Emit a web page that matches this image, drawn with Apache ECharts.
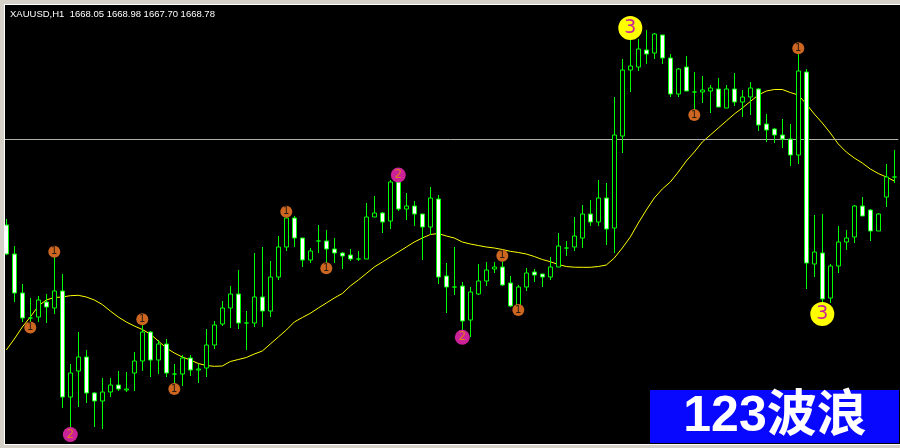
<!DOCTYPE html>
<html><head><meta charset="utf-8">
<script src="https://cdn.jsdelivr.net/npm/echarts@6/dist/echarts.min.js"></script>
<style>html,body{margin:0;padding:0;background:#d4d0c8;overflow:hidden}#c{width:900px;height:448px}</style>
</head><body><div id="c"></div>
<script>
// ---- data (XAUUSD H1) ----
const opens = [1664.0,1661.1,1657.2,1654.7,1654.8,1656.3,1655.7,1657.4,1646.8,1649.4,
1650.8,1647.2,1646.4,1647.3,1648.0,1647.5,1649.2,1650.4,1653.3,1650.5,
1652.1,1649.1,1649.1,1650.7,1649.5,1649.7,1652.0,1654.1,1655.7,1657.1,
1654.2,1654.2,1656.8,1655.4,1658.8,1661.8,1664.7,1662.7,1660.5,1662.4,
1662.4,1661.6,1661.2,1661.0,1660.6,1660.6,1664.8,1665.2,1664.4,1668.3,
1665.6,1665.9,1665.1,1663.8,1666.6,1658.9,1657.8,1657.9,1654.5,1657.1,
1658.4,1659.6,1659.8,1658.2,1655.8,1657.8,1659.3,1659.1,1658.8,1659.8,
1661.7,1661.8,1662.7,1665.1,1664.3,1666.7,1663.7,1672.9,1679.5,1679.8,
1681.5,1681.2,1683.0,1680.7,1677.1,1679.8,1677.3,1677.3,1677.4,1677.6,
1675.7,1677.6,1676.3,1676.8,1677.6,1674.1,1673.6,1673.0,1672.6,1671.0,
1679.3,1660.1,1661.2,1656.7,1659.9,1662.3,1662.8,1665.9,1665.5,1663.4,
1666.8,1668.8];
const closes = [1661.1,1657.2,1654.7,1654.7,1656.5,1655.8,1657.4,1646.8,1649.2,1650.8,
1647.2,1646.4,1647.3,1648.0,1647.6,1647.6,1650.4,1653.3,1650.5,1652.1,
1649.2,1649.1,1650.7,1649.5,1649.6,1652.0,1654.0,1655.7,1657.1,1654.2,
1654.2,1656.8,1655.4,1658.8,1661.8,1664.7,1662.7,1660.5,1661.4,1662.4,
1661.6,1661.2,1660.9,1660.6,1660.6,1664.8,1665.2,1664.3,1668.3,1665.6,
1665.9,1665.1,1663.8,1666.7,1658.8,1657.8,1657.8,1654.4,1657.3,1658.4,
1659.5,1659.8,1658.0,1655.9,1657.8,1659.2,1659.0,1658.8,1659.8,1661.9,
1661.7,1662.9,1665.1,1664.3,1666.7,1663.6,1673.0,1679.5,1679.9,1681.6,
1681.1,1683.1,1680.7,1677.1,1679.6,1677.4,1677.3,1677.5,1677.7,1675.8,
1677.6,1676.3,1676.8,1677.7,1674.0,1673.5,1673.0,1672.6,1671.0,1679.4,
1660.2,1661.3,1656.6,1659.9,1662.3,1662.7,1665.9,1664.9,1663.4,1665.1,
1668.8,1668.8];
const lows = [1661.0,1656.3,1654.3,1654.0,1654.3,1654.2,1655.1,1645.7,1643.3,1645.8,
1646.2,1643.8,1643.6,1646.8,1647.4,1647.3,1647.4,1649.4,1648.8,1649.1,
1648.8,1647.7,1647.9,1648.9,1648.2,1648.8,1651.6,1653.9,1653.7,1653.6,
1651.5,1653.8,1653.8,1654.8,1658.5,1661.4,1661.8,1659.8,1660.2,1661.2,
1659.9,1660.2,1659.6,1660.4,1660.4,1660.6,1664.8,1663.2,1663.6,1665.4,
1664.5,1663.9,1660.5,1663.0,1658.1,1655.2,1657.0,1653.1,1652.8,1657.0,
1657.9,1659.2,1657.9,1655.8,1655.6,1657.4,1658.3,1657.8,1658.5,1659.8,
1660.9,1661.4,1661.7,1663.9,1663.9,1662.0,1661.2,1671.2,1677.3,1679.4,
1680.1,1680.6,1680.1,1676.8,1676.8,1677.4,1675.3,1676.2,1675.2,1675.8,
1675.7,1675.9,1674.8,1675.0,1673.4,1672.3,1672.2,1671.7,1669.9,1670.1,
1657.6,1658.8,1656.0,1656.2,1659.2,1661.5,1662.2,1664.9,1662.4,1663.4,
1665.8,1668.2];
const highs = [1664.6,1661.9,1658.1,1656.7,1656.9,1657.1,1661.3,1659.1,1650.1,1653.3,
1651.5,1647.3,1648.7,1648.7,1649.4,1649.3,1651.3,1654.6,1653.4,1652.5,
1652.6,1650.1,1651.0,1651.0,1650.1,1653.6,1654.4,1656.4,1657.9,1659.5,
1655.4,1661.2,1661.8,1660.4,1662.9,1665.3,1664.9,1662.7,1661.7,1664.0,
1663.5,1662.7,1661.3,1661.6,1661.4,1666.2,1666.9,1665.3,1668.5,1669.1,
1667.2,1666.4,1665.1,1667.8,1667.0,1660.2,1661.8,1658.3,1657.8,1660.1,
1660.3,1660.3,1660.9,1658.9,1658.0,1659.7,1659.6,1659.1,1660.8,1663.2,
1662.4,1664.8,1666.0,1666.5,1668.5,1668.2,1676.8,1680.6,1683.3,1682.6,
1683.5,1683.2,1683.0,1681.1,1679.7,1680.9,1679.3,1678.9,1678.0,1678.7,
1678.0,1679.2,1677.5,1678.3,1677.7,1675.1,1673.7,1674.6,1674.1,1681.6,
1679.6,1665.0,1665.1,1660.1,1663.9,1663.5,1666.0,1666.8,1665.6,1665.2,
1670.1,1671.5];
const maValues = [1651.5,1652.6,1653.8,1654.8,1655.9,1656.5,1656.75,1656.8,1656.93,1656.97,
1656.8,1656.5,1656.05,1655.4,1654.8,1654.3,1653.9,1653.55,1653.1,1652.4,
1651.7,1651.2,1650.8,1650.5,1650.15,1649.95,1649.87,1649.9,1650.35,1650.55,
1650.75,1651.1,1651.4,1652.1,1652.8,1653.5,1654.3,1654.75,1655.17,1655.7,
1656.2,1656.7,1657.15,1657.9,1658.5,1659.15,1659.8,1660.3,1660.8,1661.3,
1661.8,1662.3,1662.7,1663.05,1663.15,1662.9,1662.7,1662.3,1662.1,1661.95,
1661.8,1661.7,1661.55,1661.37,1661.25,1661.1,1660.85,1660.55,1660.33,1660.05,
1659.85,1659.78,1659.77,1659.77,1659.85,1660.0,1660.7,1661.7,1662.8,1664.2,
1665.5,1666.7,1667.6,1668.3,1669.3,1670.4,1671.3,1672.3,1673.0,1673.7,
1674.4,1675.1,1675.7,1676.35,1677.0,1677.4,1677.55,1677.55,1677.25,1677.0,
1676.1,1675.1,1674.2,1673.2,1672.1,1671.3,1670.7,1670.2,1669.6,1669.15,
1668.8,1668.4];
// wave markers: [bar index, price]
const wave1Points = [[3,1653.75],[6,1661.33],[17,1654.57],[21,1647.6],[35,1665.33],[40,1659.67],[62,1660.93],[64,1655.5],[86,1675.0],[99,1681.67]];
const wave2Points = [[8,1643.05],[49,1669.0],[57,1652.77]];
const wave3Points = [[78,1683.7],[102,1655.1]];
const hLineLevel = 1672.6;
const headerText = 'XAUUSD,H1  1668.05 1668.98 1667.70 1668.78';
const badgeText = '123波浪';
const categories = opens.map((_, i) => 'bar' + i);

const candleData = opens.map((o, i) => [o, closes[i], lows[i], highs[i]]);

const chart = echarts.init(document.getElementById('c'), null, {renderer: 'canvas'});
function waveSeries(pts, label, size, fill, txtColor, fs) {
  return {
    type: 'scatter', data: pts, symbol: 'circle', symbolSize: size, z: 6,
    itemStyle: {color: fill, opacity: 1},
    label: {show: true, position: 'inside', formatter: label, color: txtColor,
      fontSize: fs, fontFamily: 'DejaVu Sans', fontWeight: 'normal'},
    emphasis: {disabled: true}, silent: true
  };
}
chart.setOption({
  backgroundColor: '#000000',
  animation: false,
  grid: {left: 2.3, top: 6, width: 896, height: 437, containLabel: false},
  xAxis: {type: 'category', data: categories, boundaryGap: true, show: false},
  yAxis: {type: 'value', min: 1642.2, max: 1685.9, show: false},
  series: [
    {type: 'line', data: maValues, symbol: 'none', z: 1, silent: true,
      lineStyle: {color: '#ffff00', width: 1}},
    {type: 'candlestick', data: candleData, barWidth: 5, z: 3, silent: true,
      itemStyle: {color: '#000000', color0: '#ffffff', borderColor: '#00ff00', borderColor0: '#00ff00', borderColorDoji: '#00ff00', borderWidth: 1},
      markLine: {silent: true, symbol: ['none', 'none'], label: {show: false}, z: 2,
        lineStyle: {color: '#b0b0a8', width: 1, type: 'solid'}, data: [{yAxis: hLineLevel}]}},
    waveSeries(wave1Points, '1', 12, '#cc6620', '#2a1a10', 10),
    waveSeries(wave2Points, '2', 15, '#cc2299', '#e07a20', 12),
    waveSeries(wave3Points, '3', 24, '#ffff00', '#cc2299', 19)
  ],
  graphic: [
    {type: 'rect', z: 100, shape: {x: 0, y: 0, width: 900, height: 4}, style: {fill: '#d4d0c8'}},
    {type: 'rect', z: 100, shape: {x: 0, y: 0, width: 4, height: 448}, style: {fill: '#d4d0c8'}},
    {type: 'rect', z: 100, shape: {x: 0, y: 445, width: 900, height: 3}, style: {fill: '#d4d0c8'}},
    {type: 'line', z: 101, shape: {x1: 4, y1: 4.5, x2: 900, y2: 4.5}, style: {stroke: '#ffffff', lineWidth: 1}},
    {type: 'line', z: 101, shape: {x1: 4.5, y1: 4, x2: 4.5, y2: 445}, style: {stroke: '#ffffff', lineWidth: 1}},
    {type: 'line', z: 101, shape: {x1: 4, y1: 444.5, x2: 900, y2: 444.5}, style: {stroke: '#ffffff', lineWidth: 1}},
    {type: 'text', z: 101, x: 10, y: 14, style: {text: headerText, fill: '#ffffff', font: '9.5px "Liberation Sans", Arial, sans-serif', textVerticalAlign: 'middle'}},
    {type: 'rect', z: 100, shape: {x: 650, y: 390, width: 249, height: 53}, style: {fill: '#0808ff'}},
    {type: 'text', z: 101, x: 775, y: 417, style: {text: badgeText, fill: '#ffffff', font: 'bold 50px "Liberation Sans", "Noto Sans CJK SC", sans-serif', textAlign: 'center', textVerticalAlign: 'middle'}}
  ]
});
</script></body></html>
